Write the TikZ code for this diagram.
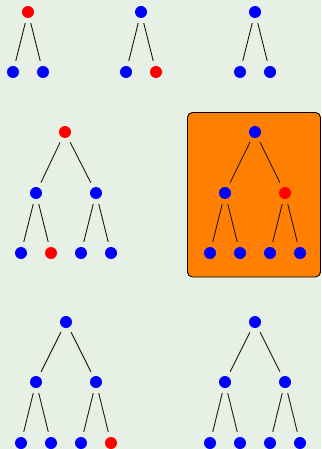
\documentclass[tikz,border=0pt]{standalone}
\usepackage{xcolor}
\usepackage{tikz}
\usetikzlibrary{shapes,positioning}

\definecolor{bgcol}{RGB}{230,240,228}
\definecolor{edgecol}{RGB}{40,26,10}
\definecolor{boxcol}{RGB}{255,128,0}

\begin{document}
\begin{tikzpicture}[x=1pt,y=-1pt]
        % Setup the styles for the dots and the links
        \tikzset{dot/.style={circle,
                             minimum size=12pt,
                             inner sep=0pt,
                             outer sep=5.5pt,
                             fill=blue},
                 hot/.style={dot, fill=red},
                 link/.style={draw=edgecol, line width=0.9pt}}

        % Background
        \fill[bgcol] (0,0) rectangle (321,449);
        \useasboundingbox (0,0) rectangle (321,449);

        % Highlighted tree box
        \draw[rounded corners=5pt, line width=0.9pt, fill=boxcol]
            (187.5,112.5) rectangle (320.5,277);

        % Top row: small trees
        \node[hot] at (28, 12)  (aR) {};
        \node[dot] at (13, 72)  (aL) {};
        \node[dot] at (43, 72)  (aN) {};

        \node[dot] at (141, 12) (bR) {};
        \node[dot] at (126, 72) (bL) {};
        \node[hot] at (156, 72) (bN) {};

        \node[dot] at (255, 12) (cR) {};
        \node[dot] at (240, 72) (cL) {};
        \node[dot] at (270, 72) (cN) {};

        % Middle row: large trees
        \node[hot] at (65, 132)  (dR)  {};
        \node[dot] at (36, 193)  (dL)  {};
        \node[dot] at (96, 193)  (dN)  {};
        \node[dot] at (21, 253)  (dLL) {};
        \node[hot] at (51, 253)  (dLN) {};
        \node[dot] at (81, 253)  (dNL) {};
        \node[dot] at (111, 253) (dNN) {};

        \node[dot] at (255, 132) (eR)  {};
        \node[dot] at (225, 193) (eL)  {};
        \node[hot] at (285, 193) (eN)  {};
        \node[dot] at (210, 253) (eLL) {};
        \node[dot] at (240, 253) (eLN) {};
        \node[dot] at (270, 253) (eNL) {};
        \node[dot] at (300, 253) (eNN) {};

        % Bottom row: large trees
        \node[dot] at (66, 322)  (fR)  {};
        \node[dot] at (36, 382)  (fL)  {};
        \node[dot] at (96, 382)  (fN)  {};
        \node[dot] at (21, 443)  (fLL) {};
        \node[dot] at (51, 443)  (fLN) {};
        \node[dot] at (81, 443)  (fNL) {};
        \node[hot] at (111, 443) (fNN) {};

        \node[dot] at (255, 322) (gR)  {};
        \node[dot] at (225, 382) (gL)  {};
        \node[dot] at (285, 382) (gN)  {};
        \node[dot] at (210, 443) (gLL) {};
        \node[dot] at (240, 443) (gLN) {};
        \node[dot] at (270, 443) (gNL) {};
        \node[dot] at (300, 443) (gNN) {};

        % Connect the dots
        \draw[link]
            (aR) -- (aL)  (aR) -- (aN)
            (bR) -- (bL)  (bR) -- (bN)
            (cR) -- (cL)  (cR) -- (cN)
            (dR) -- (dL)  (dR) -- (dN)
            (dL) -- (dLL) (dL) -- (dLN)
            (dN) -- (dNL) (dN) -- (dNN)
            (eR) -- (eL)  (eR) -- (eN)
            (eL) -- (eLL) (eL) -- (eLN)
            (eN) -- (eNL) (eN) -- (eNN)
            (fR) -- (fL)  (fR) -- (fN)
            (fL) -- (fLL) (fL) -- (fLN)
            (fN) -- (fNL) (fN) -- (fNN)
            (gR) -- (gL)  (gR) -- (gN)
            (gL) -- (gLL) (gL) -- (gLN)
            (gN) -- (gNL) (gN) -- (gNN);
\end{tikzpicture}
\end{document}
